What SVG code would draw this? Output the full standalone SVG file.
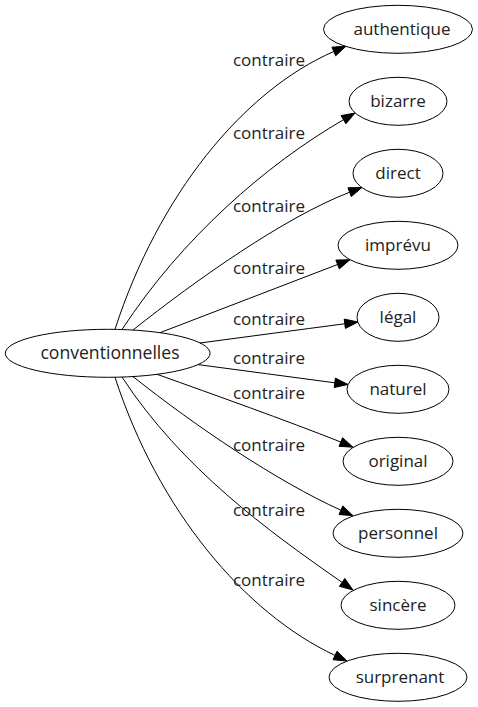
<svg xmlns="http://www.w3.org/2000/svg" width="478" height="707" viewBox="0 0 478 707">
<style>
  .node ellipse { fill: none; stroke: #000; stroke-width: 1; }
  text { font-family: "Open Sans", "DejaVu Sans", sans-serif; font-size: 17px; fill: #222; text-anchor: middle; }
  .edge path { fill: none; stroke: #000; stroke-width: 1; }
  .edge polygon { fill: #000; stroke: #000; stroke-width: 1; }
</style>
<rect width="478" height="707" fill="#fff"/>
<g id="connectors">
  <g class="edge" id="e1"><path d="M115,329.3 C158,196.6 242.1,91.4 333.8,51.5"/><polygon points="346,46.2 335.7,55.8 331.9,47.2"/><text x="269" y="66">contraire</text></g>
  <g class="edge" id="e2"><path d="M122,329.5 C182,238 265.7,164.9 343.5,119.7"/><polygon points="355,113 345.9,123.8 341.1,115.6"/><text x="269" y="139">contraire</text></g>
  <g class="edge" id="e3"><path d="M133,330 C196,280 284.3,217.5 349.6,192.2"/><polygon points="362,187.4 351.3,196.6 347.9,187.8"/><text x="269" y="212">contraire</text></g>
  <g class="edge" id="e4"><path d="M160,332.7 C219,310 278,287.4 337.6,264.5"/><polygon points="350,259.7 339.3,268.9 335.9,260.1"/><text x="269" y="274">contraire</text></g>
  <g class="edge" id="e5"><path d="M200,343 C248,336.6 296,330.2 344.8,323.75"/><polygon points="358,322 345.4,328.4 344.2,319.1"/><text x="269" y="325">contraire</text></g>
  <g class="edge" id="e6"><path d="M198,364.6 C244,370.6 289,376.8 334.8,382.8"/><polygon points="348,384.5 334.2,387.5 335.4,378.1"/><text x="269" y="364">contraire</text></g>
  <g class="edge" id="e7"><path d="M157,374.3 C215,395 285,420 340.8,442"/><polygon points="353,447.2 339,446.3 342.6,437.7"/><text x="269" y="399">contraire</text></g>
  <g class="edge" id="e8"><path d="M133,376.6 C196,426.6 277.1,481.4 340.9,510.2"/><polygon points="353,515.7 339,514.5 342.8,505.9"/><text x="269" y="451">contraire</text></g>
  <g class="edge" id="e9"><path d="M122,377.1 C182,468.6 268.2,531 342.1,582.4"/><polygon points="353,590 339.4,586.3 344.8,578.5"/><text x="269" y="516">contraire</text></g>
  <g class="edge" id="e10"><path d="M115,377.3 C158,510 244.5,612.9 335,655.4"/><polygon points="347,661.1 333,659.7 337,651.2"/><text x="269" y="586">contraire</text></g>
</g>
<g class="node" id="conventionnelles"><ellipse cx="107.7" cy="353.3" rx="102.4" ry="24"/><text x="110" y="359.3" style="font-size:17.6px">conventionnelles</text></g>
<g class="node" id="authentique"><ellipse cx="398" cy="29.3" rx="74.5" ry="24"/><text x="402" y="35.3">authentique</text></g>
<g class="node" id="bizarre"><ellipse cx="398" cy="101.3" rx="49" ry="24"/><text x="398" y="107.3">bizarre</text></g>
<g class="node" id="direct"><ellipse cx="398" cy="173.3" rx="45" ry="24"/><text x="398" y="179.3">direct</text></g>
<g class="node" id="imprevu"><ellipse cx="398" cy="245.3" rx="60" ry="24"/><text x="398" y="251.3">imprévu</text></g>
<g class="node" id="legal"><ellipse cx="398" cy="317.3" rx="41" ry="24"/><text x="398" y="323.3">légal</text></g>
<g class="node" id="naturel"><ellipse cx="398" cy="389.3" rx="51" ry="24"/><text x="398" y="395.3">naturel</text></g>
<g class="node" id="original"><ellipse cx="398" cy="461.3" rx="55" ry="24"/><text x="398" y="467.3">original</text></g>
<g class="node" id="personnel"><ellipse cx="398" cy="533.3" rx="65" ry="24"/><text x="398" y="539.3">personnel</text></g>
<g class="node" id="sincere"><ellipse cx="398" cy="605.3" rx="57" ry="24"/><text x="398" y="611.3">sincère</text></g>
<g class="node" id="surprenant"><ellipse cx="398" cy="677.3" rx="69" ry="24"/><text x="400" y="683.3">surprenant</text></g>
</svg>
